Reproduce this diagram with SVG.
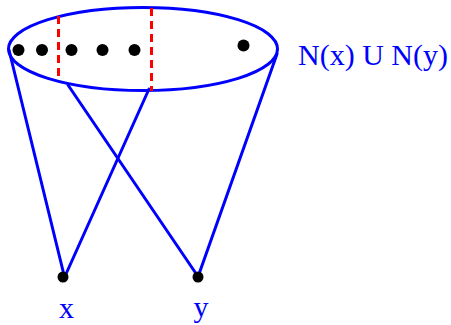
<svg xmlns="http://www.w3.org/2000/svg" width="451" height="325" viewBox="0 0 451 325">
<style>
.edge{stroke:#0000ff;stroke-width:3;fill:none;stroke-linecap:round}
.cut{stroke:#ff0000;stroke-width:3;stroke-dasharray:8,5;fill:none}
.dot{fill:#000}
.lbl{font-family:"Liberation Serif",serif;font-size:30px;fill:#0000ff}
</style>
<rect width="451" height="325" fill="#fff"/>
<g id="connectors">
<line class="edge" x1="9" y1="50" x2="64" y2="275"/>
<line class="edge" x1="68" y1="85" x2="197" y2="275"/>
<line class="edge" x1="149" y1="89" x2="66" y2="274"/>
<line class="edge" x1="277" y1="54" x2="199" y2="274"/>
</g>
<g id="set">
<ellipse cx="143" cy="49" rx="134.5" ry="41.5" fill="none" stroke="#0000ff" stroke-width="3"/>
<line class="cut" x1="58.5" y1="16" x2="58.5" y2="79"/>
<line class="cut" x1="151.5" y1="8" x2="151.5" y2="91"/>
<circle class="dot" cx="18.5" cy="50" r="6"/>
<circle class="dot" cx="42" cy="50" r="6"/>
<circle class="dot" cx="71.5" cy="50" r="6"/>
<circle class="dot" cx="102.5" cy="50" r="6"/>
<circle class="dot" cx="134.5" cy="50" r="6"/>
<circle class="dot" cx="243.5" cy="45.5" r="6"/>
<text class="lbl" x="298" y="65">N(x) U N(y)</text>
</g>
<g id="node-x">
<circle class="dot" cx="63" cy="277" r="5.5"/>
<text class="lbl" x="66.5" y="318" text-anchor="middle">x</text>
</g>
<g id="node-y">
<circle class="dot" cx="198" cy="277" r="5.5"/>
<text class="lbl" x="201" y="317" text-anchor="middle">y</text>
</g>
</svg>
